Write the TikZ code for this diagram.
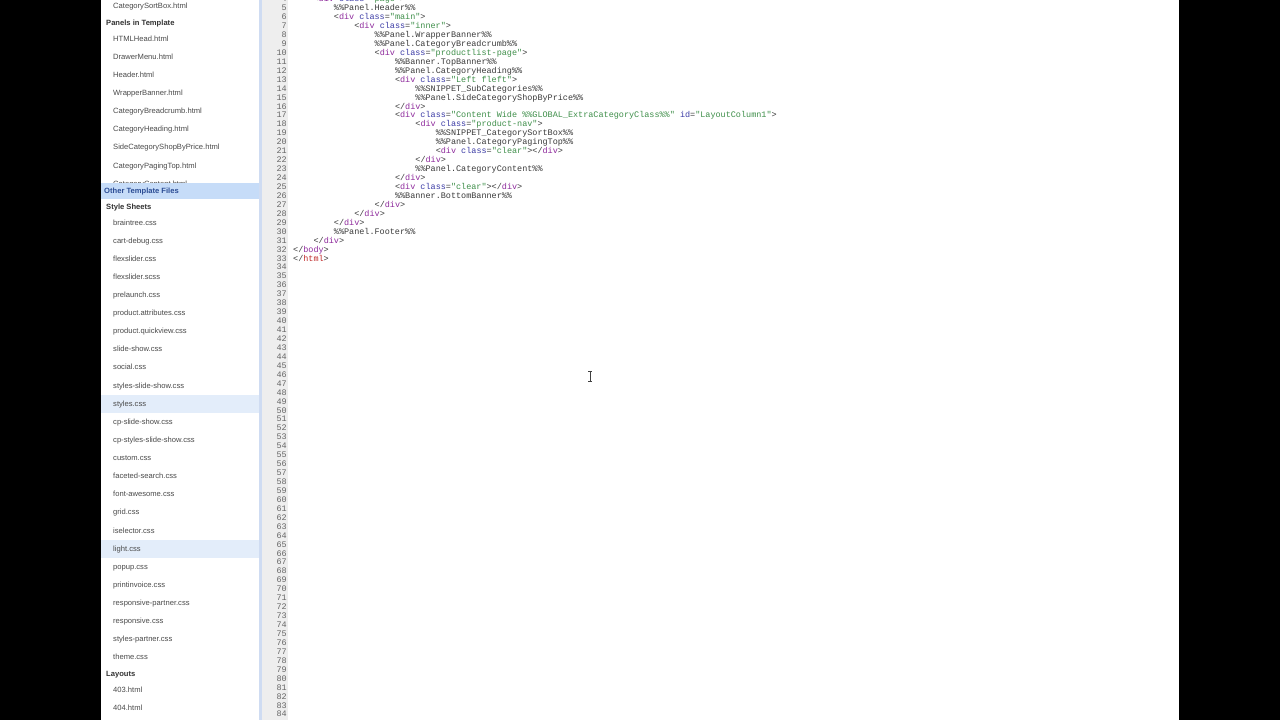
\documentclass[tikz,border=0pt]{standalone}
\usepackage{fontspec}
\setmainfont{Liberation Sans}
\setmonofont{Liberation Mono}
\definecolor{bandblue}{HTML}{C6DCF8}
\definecolor{rowblue}{HTML}{E3EDFA}
\definecolor{sepblue}{HTML}{CFDCF2}
\definecolor{guttergray}{HTML}{EEEEEE}
\definecolor{filegray}{HTML}{4A4A4A}
\definecolor{headgray}{HTML}{333333}
\definecolor{linkblue}{HTML}{2B4C94}
\definecolor{numgray}{HTML}{666666}
\definecolor{codegray}{HTML}{3A3A3A}
\definecolor{tagcol}{HTML}{8E2A9C}
\definecolor{keycol}{HTML}{3C3CA6}
\definecolor{strcol}{HTML}{3F8F4A}
\definecolor{htmlcol}{HTML}{C02A2A}
\tikzstyle{file} = [
    anchor=base west, inner sep=0pt,
    font=\fontsize{7.6}{10}\selectfont, text=filegray
]
\tikzstyle{head} = [
    anchor=base west, inner sep=0pt,
    font=\fontsize{7.6}{10}\selectfont\bfseries, text=headgray
]
\tikzstyle{band} = [
    anchor=base west, inner sep=0pt,
    font=\fontsize{7.6}{10}\selectfont\bfseries, text=linkblue
]
\tikzstyle{num} = [
    anchor=base east, inner sep=0pt,
    font=\ttfamily\fontsize{8.48}{10}\selectfont, text=numgray
]
\tikzstyle{code} = [
    anchor=base west, inner sep=0pt,
    font=\ttfamily\fontsize{8.48}{10}\selectfont, text=codegray
]
\newcommand{\hltag}[1]{\textcolor{tagcol}{#1}}
\newcommand{\hlkey}[1]{\textcolor{keycol}{#1}}
\newcommand{\hlstr}[1]{\textcolor{strcol}{#1}}
\newcommand{\opendiv}[1]{<\hltag{div} \hlkey{class}=\hlstr{"#1"}>}
\newcommand{\closediv}{</\hltag{div}>}
\newcommand{\ind}{20.37}
\newcommand{\lny}[1]{10.7+(#1-5)*8.94}
\begin{document}
\begin{tikzpicture}[x=1pt,y=-1pt]
        \useasboundingbox (0,0) rectangle (1280,720);
        \clip (0,0) rectangle (1280,720);

        % Draw page
        \fill [black] (0,0) rectangle (1280,720);
        \fill [white] (101,0) rectangle (1179,720);
        \fill [rowblue] (101,394.5) rectangle (259,412.5);
        \fill [rowblue] (101,539.5) rectangle (259,557.5);
        \fill [sepblue] (259,0) rectangle (261.5,720);
        \fill [guttergray] (261.5,0) rectangle (288,720);

        % Draw panel files
        \node (top) [file] at (113,8.5) {CategorySortBox.html};
        \node (panels) [head] at (106,25) {Panels in Template};
        \foreach \name [count=\i from 0] in {HTMLHead,DrawerMenu,Header,WrapperBanner,CategoryBreadcrumb,CategoryHeading,SideCategoryShopByPrice,CategoryPagingTop,CategoryContent}
            \node (panel\i) [file] at (113,41+\i*18.15) {\name.html};

        % Draw other files
        \fill [bandblue] (101,183) rectangle (259,199);
        \node (other) [band] at (104,193) {Other Template Files};
        \node (sheets) [head] at (106,209) {Style Sheets};
        \foreach \name [count=\i from 0] in {braintree,cart-debug,flexslider,flexslider.scss,prelaunch,product.attributes,product.quickview,slide-show,social,styles-slide-show,styles,cp-slide-show,cp-styles-slide-show,custom,faceted-search,font-awesome,grid,iselector,light,popup,printinvoice,responsive-partner,responsive,styles-partner,theme}
            \node (css\i) [file] at (113,225+\i*18.12) {\ifnum\i=3 flexslider.scss\else\name.css\fi};
        \node (layouts) [head] at (106,676) {Layouts};
        \node (err1) [file] at (113,692) {403.html};
        \node (err2) [file] at (113,710) {404.html};

        % Draw line numbers
        \foreach \n in {4,...,84}
            \node (num\n) [num] at (287,{\lny{\n}}) {\n};

        % Draw code
        \node (l4) [code] at (293+\ind,{\lny{4}}) {\opendiv{page}};
        \node (l5) [code] at (293+2*\ind,{\lny{5}}) {\%\%Panel.Header\%\%};
        \node (l6) [code] at (293+2*\ind,{\lny{6}}) {\opendiv{main}};
        \node (l7) [code] at (293+3*\ind,{\lny{7}}) {\opendiv{inner}};
        \node (l8) [code] at (293+4*\ind,{\lny{8}}) {\%\%Panel.WrapperBanner\%\%};
        \node (l9) [code] at (293+4*\ind,{\lny{9}}) {\%\%Panel.CategoryBreadcrumb\%\%};
        \node (l10) [code] at (293+4*\ind,{\lny{10}}) {\opendiv{productlist-page}};
        \node (l11) [code] at (293+5*\ind,{\lny{11}}) {\%\%Banner.TopBanner\%\%};
        \node (l12) [code] at (293+5*\ind,{\lny{12}}) {\%\%Panel.CategoryHeading\%\%};
        \node (l13) [code] at (293+5*\ind,{\lny{13}}) {\opendiv{Left fleft}};
        \node (l14) [code] at (293+6*\ind,{\lny{14}}) {\%\%SNIPPET\_SubCategories\%\%};
        \node (l15) [code] at (293+6*\ind,{\lny{15}}) {\%\%Panel.SideCategoryShopByPrice\%\%};
        \node (l16) [code] at (293+5*\ind,{\lny{16}}) {\closediv};
        \node (l17) [code] at (293+5*\ind,{\lny{17}}) {<\hltag{div} \hlkey{class}=\hlstr{"Content Wide \%\%GLOBAL\_ExtraCategoryClass\%\%"} \hlkey{id}=\hlstr{"LayoutColumn1"}>};
        \node (l18) [code] at (293+6*\ind,{\lny{18}}) {\opendiv{product-nav}};
        \node (l19) [code] at (293+7*\ind,{\lny{19}}) {\%\%SNIPPET\_CategorySortBox\%\%};
        \node (l20) [code] at (293+7*\ind,{\lny{20}}) {\%\%Panel.CategoryPagingTop\%\%};
        \node (l21) [code] at (293+7*\ind,{\lny{21}}) {\opendiv{clear}\closediv};
        \node (l22) [code] at (293+6*\ind,{\lny{22}}) {\closediv};
        \node (l23) [code] at (293+6*\ind,{\lny{23}}) {\%\%Panel.CategoryContent\%\%};
        \node (l24) [code] at (293+5*\ind,{\lny{24}}) {\closediv};
        \node (l25) [code] at (293+5*\ind,{\lny{25}}) {\opendiv{clear}\closediv};
        \node (l26) [code] at (293+5*\ind,{\lny{26}}) {\%\%Banner.BottomBanner\%\%};
        \node (l27) [code] at (293+4*\ind,{\lny{27}}) {\closediv};
        \node (l28) [code] at (293+3*\ind,{\lny{28}}) {\closediv};
        \node (l29) [code] at (293+2*\ind,{\lny{29}}) {\closediv};
        \node (l30) [code] at (293+2*\ind,{\lny{30}}) {\%\%Panel.Footer\%\%};
        \node (l31) [code] at (293+\ind,{\lny{31}}) {\closediv};
        \node (l32) [code] at (293,{\lny{32}}) {</\hltag{body}>};
        \node (l33) [code] at (293,{\lny{33}}) {</\textcolor{htmlcol}{html}>};

        % Draw cursor
        \draw [line width=0.8pt, black!75] (590,372) -- (590,381);
        \draw [line width=0.7pt, black!75] (588,371.5) -- (592,371.5);
        \draw [line width=0.7pt, black!75] (588,381) -- (592,381);
    \end{tikzpicture}
\end{document}
